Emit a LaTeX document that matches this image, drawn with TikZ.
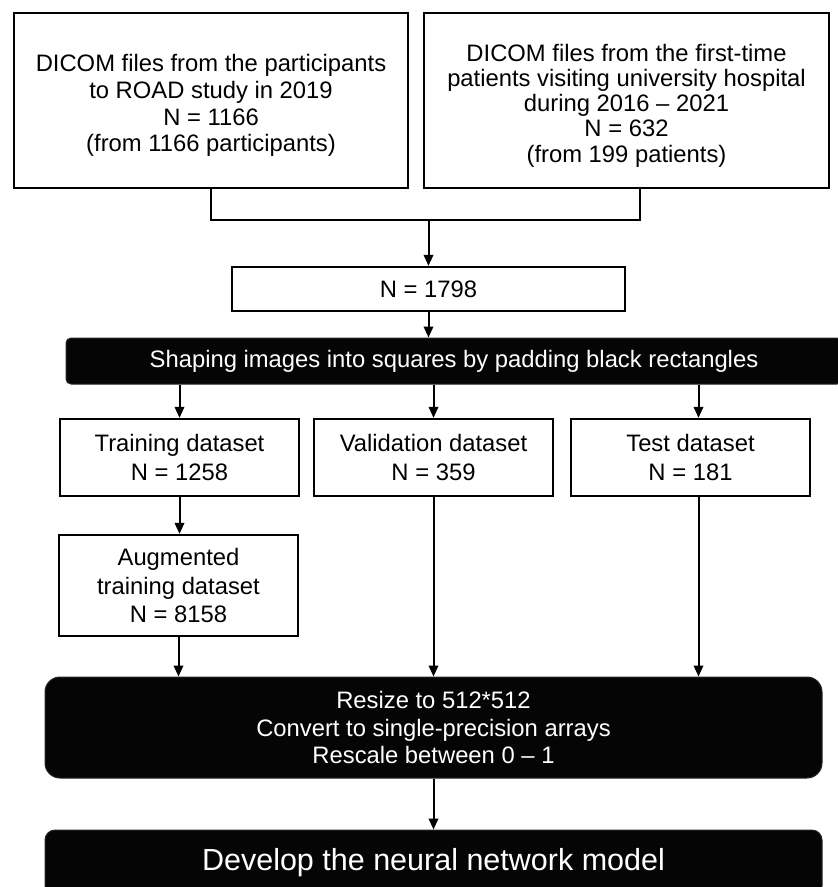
\documentclass[tikz,border=0pt]{standalone}
\usepackage{fontspec}
\setmainfont{Liberation Sans}
\usetikzlibrary{arrows.meta}
\begin{document}
\begin{tikzpicture}[x=1pt,y=-1pt,
  wbox/.style={draw=black, line width=2.3pt, fill=white, inner sep=0pt, align=center,
    font=\fontsize{23.8}{26.8}\selectfont},
  wboxb/.style={wbox, font=\fontsize{23.8}{28.6}\selectfont},
  txt/.style={inner sep=0pt, align=center, font=\fontsize{23.8}{26.8}\selectfont},
  bbox/.style={fill=black!98, draw=black!85, line width=1pt, text=white, inner sep=0pt, align=center,
    font=\fontsize{23.8}{27.5}\selectfont},
  arr/.style={line width=2pt, -{Triangle[length=11pt,width=9.5pt]}},
  ln/.style={line width=2pt}]
\useasboundingbox (0,0) rectangle (838,887);
\clip (0,0) rectangle (838,887);
% sources
\node[wbox, minimum width=394pt, minimum height=175pt] (src1) at (211,100.5) {};
\node[txt] (src1t) at ([yshift=-5pt]src1.center)
  {DICOM files from the participants\\to ROAD study in 2019\\N = 1166\\(from 1166 participants)};
\node[wbox, minimum width=405pt, minimum height=175pt] (src2) at (626.5,100.5) {};
\node[txt, font=\fontsize{23.8}{25.2}\selectfont] (src2t) at ([yshift=-5pt]src2.center)
  {DICOM files from the first-time\\patients visiting university hospital\\during 2016 -- 2021\\N = 632\\(from 199 patients)};
\coordinate (s2d) at ([xshift=13.5pt]src2.south);
\coordinate (brk) at (211,220);
% merged
\node[wbox, minimum width=393pt, minimum height=44pt] (all) at (428.5,289) {N = 1798};
% shaping
\node[bbox, rounded corners=5pt, minimum width=776pt, minimum height=46pt] (shape) at (454,361)
  {Shaping images into squares by padding black rectangles};
% splits
\node[wboxb, minimum width=239pt, minimum height=77pt] (trn) at (179.5,457.5) {Training dataset\\N = 1258};
\node[wboxb, minimum width=239pt, minimum height=77pt] (val) at (433.5,457.5) {Validation dataset\\N = 359};
\node[wboxb, minimum width=239pt, minimum height=77pt] (tst) at (690.5,457.5) {Test dataset\\N = 181};
\node[wboxb, minimum width=239pt, minimum height=101pt] (aug) at (178.5,585.5) {Augmented\\training dataset\\N = 8158};
\coordinate (tstin) at ([xshift=8pt]tst.north);
\coordinate (tstout) at ([xshift=8pt]tst.south);
% preprocessing
\node[bbox, rounded corners=15pt, minimum width=777pt, minimum height=101pt] (prep) at (433.5,727.5)
  {Resize to 512*512\\Convert to single-precision arrays\\Rescale between 0 -- 1};
\node[bbox, rounded corners=10pt, minimum width=777pt, minimum height=66pt, font=\fontsize{30.5}{34}\selectfont] (dev) at (433.5,863)
  {Develop the neural network model};
% connectors
\draw[ln] (src1.south) -- (brk) -| (s2d);
\draw[arr] (brk -| all.north) -- (all.north);
\draw[arr] (all.south) -- (all.south |- shape.north);
\draw[arr] (shape.south -| trn.north) -- (trn.north);
\draw[arr] (shape.south -| val.north) -- (val.north);
\draw[arr] (shape.south -| tstin) -- (tstin);
\draw[arr] (trn.south) -- (trn.south |- aug.north);
\draw[arr] (aug.south) -- (aug.south |- prep.north);
\draw[arr] (val.south) -- (val.south |- prep.north);
\draw[arr] (tstout) -- (tstout |- prep.north);
\draw[arr] (prep.south) -- (dev.north);
\end{tikzpicture}
\end{document}
